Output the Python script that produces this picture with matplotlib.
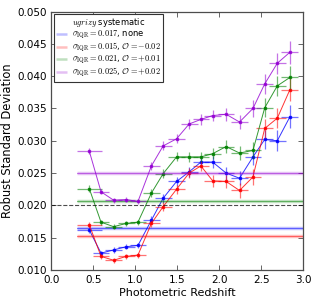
import matplotlib
matplotlib.use("Agg")
import matplotlib.pyplot as plt
import numpy as np

plt.rcParams['mathtext.fontset'] = 'cm'
plt.rcParams['font.family'] = ['DejaVu Sans']

# photometric-redshift bin centres
z = [0.45, 0.59, 0.74, 0.89, 1.03, 1.19, 1.33, 1.49, 1.64, 1.78, 1.92, 2.08, 2.24, 2.40, 2.54, 2.69, 2.84]
zerr = [0.15, 0.1, 0.1, 0.1, 0.1, 0.1, 0.1, 0.1, 0.1, 0.1, 0.1, 0.1, 0.1, 0.1, 0.1, 0.1, 0.1]

blue = [0.0162, 0.0126, 0.0131, 0.0136, 0.0138, 0.0177, 0.0211, 0.0237, 0.0252, 0.0267, 0.0267, 0.0250, 0.0242, 0.0275, 0.0302, 0.0300, 0.0337]
red = [0.0170, 0.0121, 0.0115, 0.0121, 0.0123, 0.0172, 0.0198, 0.0225, 0.0250, 0.0261, 0.0238, 0.0237, 0.0223, 0.0244, 0.0319, 0.0335, 0.0379]
green = [0.0226, 0.0174, 0.0167, 0.0172, 0.0174, 0.0219, 0.0249, 0.0275, 0.0275, 0.0275, 0.0280, 0.0291, 0.0281, 0.0285, 0.0351, 0.0385, 0.0398]
purple = [0.0284, 0.0221, 0.0208, 0.0209, 0.0206, 0.0261, 0.0292, 0.0303, 0.0326, 0.0333, 0.0339, 0.0341, 0.0329, 0.0350, 0.0388, 0.0420, 0.0437]

yerr = [0.0005, 0.0004, 0.0004, 0.0004, 0.0004, 0.0006, 0.0007, 0.0007, 0.0008, 0.0008, 0.0009, 0.0010, 0.0011, 0.0013, 0.0015, 0.0016, 0.0018]

iqr_levels = [0.0165, 0.0153, 0.0207, 0.0250]
labels = [r'$\sigma_{\rm IQR}=0.017$, none',
          r'$\sigma_{\rm IQR}=0.015$, $\mathcal{O}=-0.02$',
          r'$\sigma_{\rm IQR}=0.021$, $\mathcal{O}=+0.01$',
          r'$\sigma_{\rm IQR}=0.025$, $\mathcal{O}=+0.02$']
colors = ['blue', 'red', 'green', 'darkviolet']
series = [blue, red, green, purple]

fig = plt.figure(figsize=(3.14, 3.04), dpi=100)
ax = fig.add_axes([0.164, 0.112, 0.802, 0.850])

for s, c, lev, lab in zip(series, colors, iqr_levels, labels):
    ax.plot([0.3, 3.0], [lev, lev], color=c, lw=2.5, alpha=0.25, label=lab, solid_capstyle='butt')
    ax.plot([0.3, 3.0], [lev, lev], color=c, lw=0.6, alpha=0.6)
    ax.errorbar(z, s, xerr=zerr, yerr=yerr, fmt='none', ecolor=c, elinewidth=0.9,
                alpha=0.55, capsize=0)
    ax.plot(z, s, color=c, lw=0.7, alpha=0.8, marker='s', ms=2.0, mec=c, mfc=c)

ax.axhline(0.020, color='black', ls='--', lw=0.8, alpha=0.7)

ax.set_xlim(0.0, 3.0)
ax.set_ylim(0.010, 0.050)
ax.set_xticks([0.0, 0.5, 1.0, 1.5, 2.0, 2.5, 3.0])
ax.set_yticks([0.010, 0.015, 0.020, 0.025, 0.030, 0.035, 0.040, 0.045, 0.050])
ax.tick_params(direction='in', top=True, right=True, labelsize=7.5, length=3.5, width=0.6, color='0.3')
for sp in ax.spines.values():
    sp.set_color('0.3')
    sp.set_linewidth(0.9)
ax.set_xlabel('Photometric Redshift', fontsize=8, labelpad=2)
ax.set_ylabel('Robust Standard Deviation', fontsize=8.3, labelpad=2)

leg = ax.legend(loc='upper left', fontsize=6, title=r'$ugrizy$ systematic', title_fontsize=6,
                fancybox=False, framealpha=1, edgecolor='0.2', handlelength=1.3,
                handleheight=0.5, borderaxespad=0.25, labelspacing=0.0,
                handletextpad=0.6, borderpad=0.3)
leg.get_frame().set_linewidth(0.8)
for h in leg.get_lines():
    h.set_linewidth(1.8)

fig.savefig('out.png', dpi=100)
